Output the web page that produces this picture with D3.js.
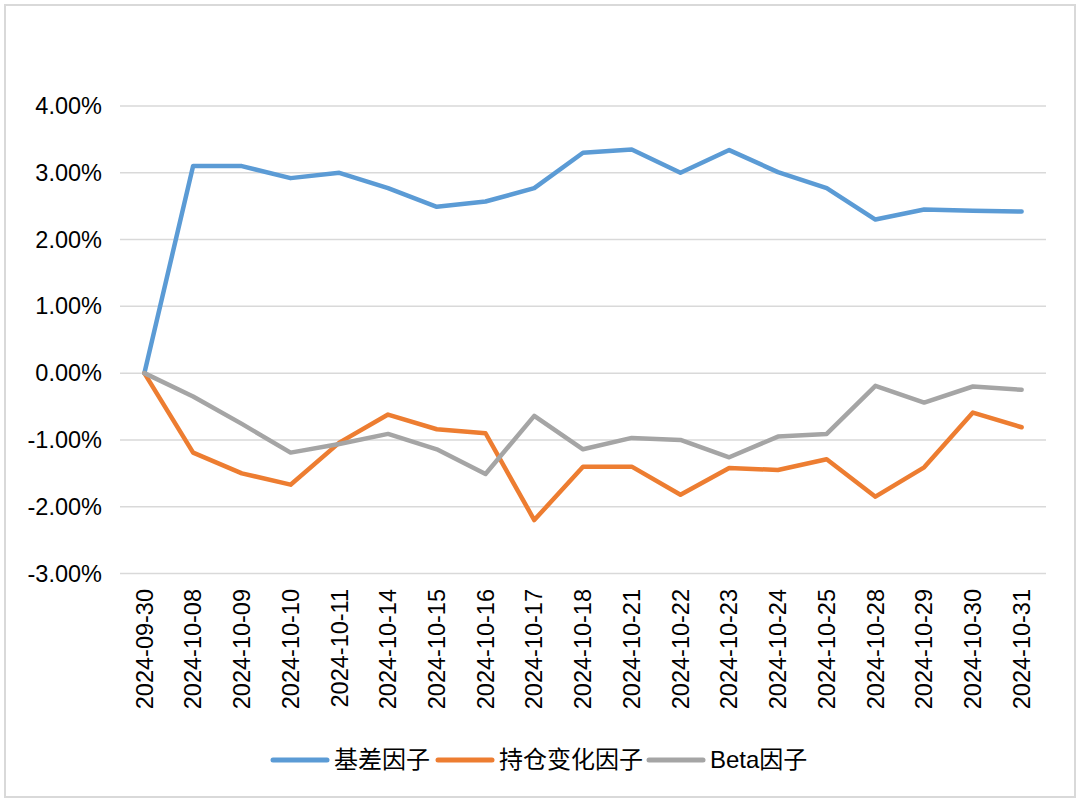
<!DOCTYPE html>
<html><head><meta charset="utf-8">
<script src="https://cdn.jsdelivr.net/npm/d3@7"></script>
<style>
html,body{margin:0;padding:0;background:#fff;}
svg text{font-family:"Liberation Sans",Arial,"Noto Sans CJK SC",sans-serif;fill:#000;}
</style></head>
<body>
<svg id="c" width="1080" height="803"></svg>
<script>
const dates = ["2024-09-30","2024-10-08","2024-10-09","2024-10-10","2024-10-11","2024-10-14","2024-10-15","2024-10-16","2024-10-17","2024-10-18","2024-10-21","2024-10-22","2024-10-23","2024-10-24","2024-10-25","2024-10-28","2024-10-29","2024-10-30","2024-10-31"];
const basis = [0, 3.10, 3.10, 2.92, 3.00, 2.77, 2.49, 2.57, 2.77, 3.30, 3.35, 3.00, 3.34, 3.01, 2.77, 2.30, 2.45, 2.43, 2.42];
const position = [0, -1.19, -1.50, -1.67, -1.04, -0.62, -0.84, -0.90, -2.20, -1.40, -1.40, -1.82, -1.42, -1.45, -1.29, -1.85, -1.41, -0.59, -0.81];
const beta = [0, -0.35, -0.76, -1.19, -1.06, -0.91, -1.14, -1.51, -0.64, -1.14, -0.97, -1.00, -1.26, -0.95, -0.91, -0.19, -0.44, -0.20, -0.25];
const yTicks = [4, 3, 2, 1, 0, -1, -2, -3];
const seriesNames = ["基差因子", "持仓变化因子", "Beta因子"];
const colors = ["#5B9BD5", "#ED7D31", "#A5A5A5"];

const svg = d3.select("#c");
svg.append("rect").attr("x",5).attr("y",5).attr("width",1070).attr("height",792)
  .attr("fill","#fff").attr("stroke","#d9d9d9").attr("stroke-width",2);

const x = d3.scaleBand().domain(dates).range([120,1046]);
const y = d3.scaleLinear().domain([-3,4]).range([573.5,106]);
const cx = d => x(d) + x.bandwidth()/2;

// gridlines
svg.append("g").selectAll("line").data(yTicks).join("line")
  .attr("x1",120).attr("x2",1046).attr("y1",d=>y(d)).attr("y2",d=>y(d))
  .attr("stroke","#d9d9d9").attr("stroke-width",1.5);

// y axis labels
const fmt = d3.format(".2f");
const yAxis = d3.axisLeft(y).tickValues(yTicks).tickSize(0).tickPadding(0)
  .tickFormat(d => fmt(d).replace("\u2212","-") + "%");
const gy = svg.append("g").attr("transform","translate(102,0)").call(yAxis);
gy.select(".domain").remove();
gy.selectAll("text").attr("font-size",23.5).attr("fill","#000")
  .style("font-family",'"Liberation Sans",Arial,sans-serif');

// x axis labels
const xAxis = d3.axisBottom(x).tickSize(0).tickPadding(0);
const gx = svg.append("g").attr("transform","translate(0,589)").call(xAxis);
gx.select(".domain").remove();
gx.selectAll("text").attr("font-size",23.5).attr("fill","#000")
  .attr("transform","rotate(-90)").attr("text-anchor","end")
  .attr("x",0).attr("y",0).attr("dx",0).attr("dy","0.35em")
  .style("font-family",'"Liberation Sans",Arial,sans-serif');

// lines
const all = [basis, position, beta];
const line = d3.line().x((d,i)=>cx(dates[i])).y(d=>y(d));
all.forEach((s,k)=>{
  svg.append("path").datum(s).attr("d",line).attr("fill","none")
    .attr("stroke",colors[k]).attr("stroke-width",4.5)
    .attr("stroke-linejoin","round").attr("stroke-linecap","round");
});

// legend
const legendX = [273, 438, 649];
const lg = svg.append("g");
seriesNames.forEach((n,k)=>{
  lg.append("line").attr("x1",legendX[k]).attr("x2",legendX[k]+54).attr("y1",760).attr("y2",760)
    .attr("stroke",colors[k]).attr("stroke-width",5).attr("stroke-linecap","round");
  lg.append("text").attr("x",legendX[k]+61).attr("y",760).attr("dy","0.35em")
    .attr("font-size",24).text(n)
    .style("font-family",'"Liberation Sans","Noto Sans CJK SC",sans-serif');
});
</script>
</body></html>
